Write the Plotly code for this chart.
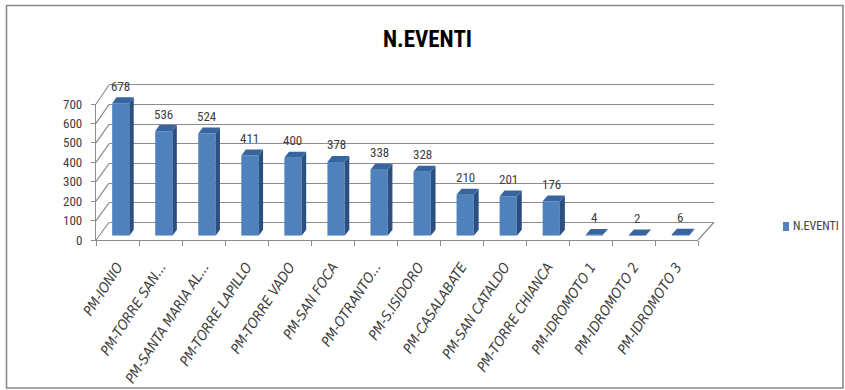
import plotly.graph_objects as go

# ---- data ----
categories = [
    "PM-IONIO", "PM-TORRE SAN...", "PM-SANTA MARIA AL...", "PM-TORRE LAPILLO",
    "PM-TORRE VADO", "PM-SAN FOCA", "PM-OTRANTO...", "PM-S.ISIDORO",
    "PM-CASALABATE", "PM-SAN CATALDO", "PM-TORRE CHIANCA",
    "PM-IDROMOTO 1", "PM-IDROMOTO 2", "PM-IDROMOTO 3",
]
eventi = [678, 536, 524, 411, 400, 378, 338, 328, 210, 201, 176, 4, 2, 6]
series_name = "N.EVENTI"
y_ticks = [0, 100, 200, 300, 400, 500, 600, 700]

# ---- page & pseudo-3D geometry (pixels) ----
W, H = 845, 390
N = len(categories)
FONT = "Liberation Sans Narrow, Roboto Condensed, DejaVu Sans Condensed, sans-serif"
FONT_ITALIC = "DejaVu Sans Condensed, sans-serif"
TXT = "#404040"
GRID = "#8c8c8c"
C_FRONT, C_SIDE, C_TOP = "#4F81BD", "#2B4F80", "#37659F"

# front plane (depth 0) and back wall (depth 1)
FRONT = dict(x0=96.0, slot=43.0, y0=240.0, k=136.0 / 700)
BACK = dict(x0=109.0, slot=43.2, y0=222.5, k=137.5 / 700)
D_BAR0, D_BAR1 = 0.25, 0.58      # depth span of each column
HALF_W = 0.2                     # half column width in slot units


def plane(d):
    return {key: FRONT[key] + d * (BACK[key] - FRONT[key]) for key in FRONT}


def to_px(s, v, d):
    p = plane(d)
    return p["x0"] + (s + 0.5) * p["slot"], p["y0"] - v * p["k"]


def fx(px):
    return px / W


def fy(py):
    return (H - py) / H


BAR = plane(D_BAR0)
BAR_YMAX = 800


def to_bar(px, py):
    return (px - BAR["x0"]) / BAR["slot"] - 0.5, (BAR["y0"] - py) / BAR["k"]


fig = go.Figure()

# back wall subplot (xy): only gridlines
fig.add_trace(go.Scatter(x=[], y=[], xaxis="x", yaxis="y", showlegend=False))

# columns (x2y2): front faces as bars, side and top faces as polygons
idx = list(range(N))
fig.add_trace(go.Bar(
    x=idx, y=eventi, width=2 * HALF_W, xaxis="x2", yaxis="y2",
    marker=dict(color=C_FRONT, line=dict(width=0)), name=series_name,
    showlegend=False, hoverinfo="skip",
))
for i, v in enumerate(eventi):
    side = [(i + HALF_W, 0, D_BAR0), (i + HALF_W, 0, D_BAR1),
            (i + HALF_W, v, D_BAR1), (i + HALF_W, v, D_BAR0)]
    top = [(i - HALF_W, v, D_BAR0), (i + HALF_W, v, D_BAR0),
           (i + HALF_W, v, D_BAR1), (i - HALF_W, v, D_BAR1)]
    for pts, col in ((side, C_SIDE), (top, C_TOP)):
        xy = [to_bar(*to_px(*p)) for p in pts]
        xs = [a for a, _ in xy] + [xy[0][0]]
        ys = [b for _, b in xy] + [xy[0][1]]
        fig.add_trace(go.Scatter(
            x=xs, y=ys, xaxis="x2", yaxis="y2", mode="lines", fill="toself",
            fillcolor=col, line=dict(width=0, color=col),
            showlegend=False, hoverinfo="skip",
        ))

# front frame (x3y3): value axis and category axis
fig.add_trace(go.Scatter(x=[], y=[], xaxis="x3", yaxis="y3", showlegend=False))

# value labels above the columns
annotations = []
for i, v in enumerate(eventi):
    annotations.append(dict(
        x=i, y=v, xref="x2", yref="y2", text=str(v), showarrow=False,
        yshift=17, yanchor="middle", font=dict(family=FONT, size=13, color=TXT),
    ))

# title
annotations.append(dict(
    x=fx(427), y=fy(39.5), xref="paper", yref="paper", text="<b>N.EVENTI</b>",
    showarrow=False, xanchor="center", yanchor="middle",
    font=dict(family=FONT, size=23, color="#000000"),
))

# legend entry
annotations.append(dict(
    x=fx(791), y=fy(226.5), xref="paper", yref="paper", text=series_name,
    showarrow=False, xanchor="left", yanchor="middle",
    font=dict(family=FONT, size=12, color=TXT),
))

shapes = []
# side wall gridlines and right floor edge
for v in y_ticks:
    (x0, y0), (x1, y1) = to_px(-0.5, v, 0), to_px(-0.5, v, 1)
    shapes.append(dict(type="line", xref="paper", yref="paper",
                       x0=fx(x0), y0=fy(y0), x1=fx(x1), y1=fy(y1),
                       line=dict(color=GRID, width=1.2), layer="below"))
(x0, y0), (x1, y1) = to_px(N - 0.5, 0, 0), to_px(N - 0.5, 0, 1)
shapes.append(dict(type="line", xref="paper", yref="paper",
                   x0=fx(x0), y0=fy(y0), x1=fx(x1), y1=fy(y1),
                   line=dict(color=GRID, width=1.2), layer="below"))
# legend swatch
shapes.append(dict(type="rect", xref="paper", yref="paper",
                   x0=fx(783), x1=fx(789), y0=fy(222), y1=fy(231),
                   fillcolor=C_FRONT, line=dict(width=0)))
# chart border
shapes.append(dict(type="rect", xref="paper", yref="paper",
                   x0=fx(6.5), x1=fx(843), y0=fy(5.5), y1=fy(388),
                   line=dict(color="#8a8a8a", width=1.6)))

# back wall axes
bw_pad = 8
bw_top = BACK["y0"] - (700 + bw_pad) * BACK["k"]
bw_bot = BACK["y0"] + bw_pad * BACK["k"]
hidden = dict(showticklabels=False, showgrid=False, zeroline=False,
              showline=False, ticks="", fixedrange=True, automargin=False)

fig.update_layout(
    width=W, height=H,
    margin=dict(l=0, r=0, t=0, b=0, pad=0, autoexpand=False),
    paper_bgcolor="white",
    plot_bgcolor="rgba(0,0,0,0)",
    showlegend=False,
    xaxis=dict(hidden, domain=[fx(BACK["x0"]), fx(BACK["x0"] + N * BACK["slot"])],
               range=[-0.5, N - 0.5], anchor="y"),
    yaxis=dict(domain=[fy(bw_bot), fy(bw_top)], range=[-bw_pad, 700 + bw_pad],
               anchor="x", showgrid=True, gridcolor=GRID, gridwidth=1.2,
               tickvals=y_ticks, showticklabels=False, zeroline=False,
               showline=False, ticks="", fixedrange=True, automargin=False),
    xaxis2=dict(hidden, domain=[fx(BAR["x0"]), fx(BAR["x0"] + N * BAR["slot"])],
                range=[-0.5, N - 0.5], anchor="y2"),
    yaxis2=dict(hidden, domain=[fy(BAR["y0"]), fy(BAR["y0"] - BAR_YMAX * BAR["k"])],
                range=[0, BAR_YMAX], anchor="x2"),
    xaxis3=dict(domain=[fx(FRONT["x0"]), fx(FRONT["x0"] + N * FRONT["slot"])],
                range=[-0.5, N - 0.5], anchor="y3", automargin=False,
                tickmode="array", tickvals=idx,
                ticktext=[f"<i>{c}</i>" for c in categories],
                ticks="", tickangle=-57, ticklabelstandoff=12,
                tickfont=dict(family=FONT_ITALIC, size=14, color=TXT, style="italic"),
                showline=True, linecolor=GRID, linewidth=1.2,
                showgrid=False, zeroline=False, fixedrange=True,
                minor=dict(tickmode="array",
                           tickvals=[k - 0.5 for k in range(N + 1)],
                           ticks="outside", ticklen=5, tickcolor=GRID,
                           tickwidth=1, showgrid=False)),
    yaxis3=dict(domain=[fy(FRONT["y0"]), fy(FRONT["y0"] - 700 * FRONT["k"])],
                range=[0, 700], anchor="x3", tickvals=y_ticks, automargin=False,
                ticks="outside", ticklen=4, tickcolor=GRID, tickwidth=1,
                ticklabelstandoff=6,
                tickfont=dict(family=FONT, size=13, color=TXT),
                showline=True, linecolor=GRID, linewidth=1.2,
                showgrid=False, zeroline=False, fixedrange=True),
    annotations=annotations,
    shapes=shapes,
)

# page body without default margin so the figure fills the window exactly
fig.write_html("out.html", post_script="document.body.style.margin='0';")
